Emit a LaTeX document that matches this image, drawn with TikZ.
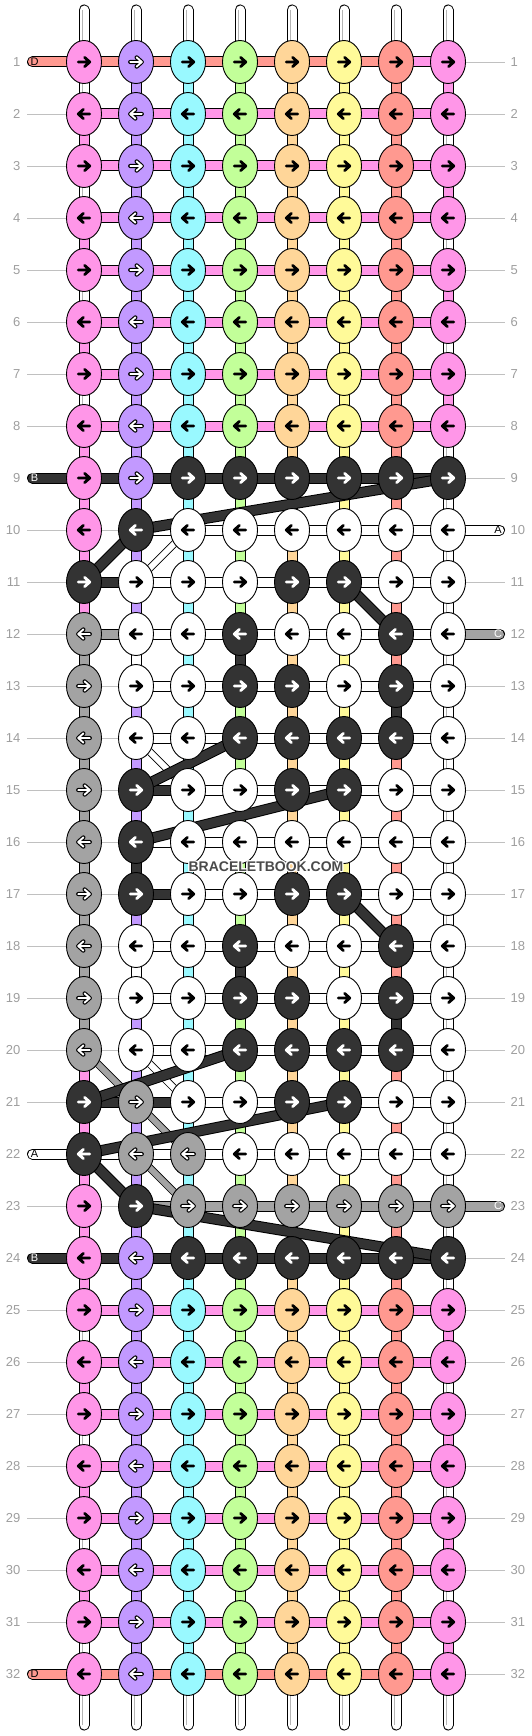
\documentclass[tikz,border=0pt]{standalone}
\usepackage{fontspec}
\setmainfont{Liberation Sans}
\usetikzlibrary{shapes.geometric}

\definecolor{cP}{HTML}{FF96E8}
\definecolor{cU}{HTML}{C299FF}
\definecolor{cC}{HTML}{99F9FF}
\definecolor{cG}{HTML}{C2FF99}
\definecolor{cO}{HTML}{FFD699}
\definecolor{cY}{HTML}{FFFA99}
\definecolor{cS}{HTML}{FF9990}
\definecolor{cK}{HTML}{333333}
\definecolor{cR}{HTML}{A3A3A3}
\definecolor{cW}{HTML}{FFFFFF}
\definecolor{lab}{HTML}{9E9E9E}
\definecolor{rule}{HTML}{C0C0C0}
\definecolor{thr}{HTML}{B4B4B4}
\definecolor{wmtext}{HTML}{4A4A4A}

\pgfdeclarelayer{background}
\pgfsetlayers{background,main}

\tikzset{
  knot/.style={ellipse,draw=black,line width=0.9pt,minimum width=35pt,minimum height=43pt,inner sep=0pt},
  strip/.style={draw=black,line width=1pt,double=#1,double distance=9pt},
  thread/.style={strip=white,line cap=round},
  seam/.style={draw=#1,line width=0.9pt},
  thinband/.style={draw=black,line width=0.8pt,double=#1,double distance=6pt},
  rowline/.style={draw=rule,line width=0.8pt},
  rownum/.style={text=lab,inner sep=0pt,font=\fontsize{13pt}{15pt}\selectfont},
  tailtext/.style={inner sep=0pt,font=\fontsize{11pt}{13pt}\selectfont},
  wmark/.style={inner sep=0pt,font=\fontsize{14pt}{16pt}\selectfont\bfseries},
  arrback/.style={draw=black,line width=2.8pt,line cap=round,line join=round},
  arrfront/.style={draw=none},
  aP/.style={}, aC/.style={}, aG/.style={}, aO/.style={},
  aY/.style={}, aS/.style={}, aW/.style={},
  aK/.style={arrback/.style={draw=white,line width=2.8pt,line cap=round,line join=round}},
  aU/.style={arrback/.style={draw=black,line width=4.2pt,line cap=round,line join=round},
             arrfront/.style={draw=white,line width=1.9pt,line cap=round,line join=round}},
  aR/.style={aU},
  knotarrow/.pic={
    \draw[arrback] (-5.8,0) -- (5.8,0) (0.6,-4.6) -- (5.8,0) -- (0.6,4.6);
    \draw[arrfront] (-5.8,0) -- (5.8,0) (0.6,-4.6) -- (5.8,0) -- (0.6,4.6);
  }
}

\def\rows{%
1/{P,U,C,G,O,Y,S,P}/{S,S,S,S,S,S,P}/{X,U,C,G,O,Y,S,P},
2/{P,U,C,G,O,Y,S,P}/{P,P,P,P,P,P,P}/{P,U,C,G,O,Y,S,X},
3/{P,U,C,G,O,Y,S,P}/{P,P,P,P,P,P,P}/{X,U,C,G,O,Y,S,P},
4/{P,U,C,G,O,Y,S,P}/{P,P,P,P,P,P,P}/{P,U,C,G,O,Y,S,X},
5/{P,U,C,G,O,Y,S,P}/{P,P,P,P,P,P,P}/{X,U,C,G,O,Y,S,P},
6/{P,U,C,G,O,Y,S,P}/{P,P,P,P,P,P,P}/{P,U,C,G,O,Y,S,X},
7/{P,U,C,G,O,Y,S,P}/{P,P,P,P,P,P,P}/{X,U,C,G,O,Y,S,P},
8/{P,U,C,G,O,Y,S,P}/{P,P,P,P,P,P,P}/{P,U,C,G,O,Y,S,X},
9/{P,U,K,K,K,K,K,K}/{K,K,K,K,K,K,K}/{P,U,C,G,O,Y,S,X},
10/{P,K,W,W,W,W,W,W}/{N,W,W,W,W,W,W}/{P,U,C,G,O,Y,S,X},
11/{K,W,W,W,K,K,W,W}/{K,W,W,W,W,W,W}/{P,U,C,G,O,Y,S,X},
12/{R,W,W,K,W,W,K,W}/{R,W,W,W,W,W,W}/{R,W,C,K,O,Y,S,X},
13/{R,W,W,K,K,W,K,W}/{N,W,W,W,W,W,W}/{R,U,C,G,O,Y,K,X},
14/{R,W,W,K,K,K,K,W}/{N,W,W,W,W,W,W}/{R,U,C,G,O,Y,S,X},
15/{R,K,W,W,K,K,W,W}/{N,K,W,W,W,W,W}/{R,U,C,G,O,Y,S,X},
16/{R,K,W,W,W,W,W,W}/{N,W,W,W,W,W,W}/{R,K,C,G,O,Y,S,X},
17/{R,K,W,W,K,K,W,W}/{N,K,W,W,W,W,W}/{R,U,C,G,O,Y,S,X},
18/{R,W,W,K,W,W,K,W}/{N,W,W,W,W,W,W}/{R,W,C,K,O,Y,S,X},
19/{R,W,W,K,K,W,K,W}/{N,W,W,W,W,W,W}/{R,U,C,G,O,Y,K,X},
20/{R,W,W,K,K,K,K,W}/{N,W,W,W,W,W,W}/{P,U,C,G,O,Y,S,X},
21/{K,R,W,W,K,K,W,W}/{K,K,W,W,W,W,W}/{P,U,C,G,O,Y,S,X},
22/{K,R,R,W,W,W,W,W}/{W,W,W,W,W,W,W}/{P,U,C,G,O,Y,S,X},
23/{P,K,R,R,R,R,R,R}/{N,R,R,R,R,R,R}/{P,U,C,G,O,Y,S,X},
24/{P,U,K,K,K,K,K,K}/{K,K,K,K,K,K,K}/{P,U,C,G,O,Y,S,X},
25/{P,U,C,G,O,Y,S,P}/{P,P,P,P,P,P,P}/{X,U,C,G,O,Y,S,P},
26/{P,U,C,G,O,Y,S,P}/{P,P,P,P,P,P,P}/{P,U,C,G,O,Y,S,X},
27/{P,U,C,G,O,Y,S,P}/{P,P,P,P,P,P,P}/{X,U,C,G,O,Y,S,P},
28/{P,U,C,G,O,Y,S,P}/{P,P,P,P,P,P,P}/{P,U,C,G,O,Y,S,X},
29/{P,U,C,G,O,Y,S,P}/{P,P,P,P,P,P,P}/{X,U,C,G,O,Y,S,P},
30/{P,U,C,G,O,Y,S,P}/{P,P,P,P,P,P,P}/{P,U,C,G,O,Y,S,X},
31/{P,U,C,G,O,Y,S,P}/{P,P,P,P,P,P,P}/{X,U,C,G,O,Y,S,P},
32/{P,U,C,G,O,Y,S,P}/{S,S,S,S,S,S,P}/{N,N,N,N,N,N,N,N}}

\begin{document}
\begin{tikzpicture}[x=1pt,y=-1pt]
  \useasboundingbox (0,0) rectangle (532,1736);

  \foreach \r/\ks/\gs/\vs in \rows {
    \foreach \k [count=\c] in \ks {
      \node[knot,fill=c\k] (k-\r-\c) at ({84+52*(\c-1)},{62+52*(\r-1)}) {};
      \ifodd\r\relax
        \pic[a\k] at (k-\r-\c) {knotarrow};
      \else
        \pic[a\k,xscale=-1] at (k-\r-\c) {knotarrow};
      \fi
    }
    \node[rownum,anchor=east] (lL-\r) at (20.5,{62+52*(\r-1)}) {\r};
    \node[rownum,anchor=west] (lR-\r) at (510.5,{62+52*(\r-1)}) {\r};
  }

  \foreach \dx/\dy [count=\i] in {-1/0,1/0,0/-1,0/1,-1/-1,1/1,-1/1,1/-1}
    \node[wmark,text=white] (wh-\i) at ({266+(\dx)},{867+(\dy)}) {BRACELETBOOK.COM};
  \node[wmark,text=wmtext] (wm) at (266,867) {BRACELETBOOK.COM};

  \begin{pgfonlayer}{background}
    \foreach \r in {1,...,32}
      \draw[rowline,shorten <=6.5pt,shorten >=5.5pt] (lL-\r.east) -- (lR-\r.west);

    \foreach \c in {1,...,8} {
      \coordinate (t-\c) at ({84+52*(\c-1)},10);
      \coordinate (b-\c) at ({84+52*(\c-1)},1725);
      \draw[thread] (t-\c) -- (k-1-\c.center);
      \draw[seam=thr] ([xshift=-1.5pt]t-\c) -- ([xshift=-1.5pt]k-1-\c.center);
      \draw[thread] (b-\c) -- (k-32-\c.center);
      \draw[seam=thr] ([xshift=-1.5pt]b-\c) -- ([xshift=-1.5pt]k-32-\c.center);
    }

    \foreach \r/\ks/\gs/\vs in \rows {
      \foreach \g [count=\c] in \gs {
        \if N\g\else
          \pgfmathtruncatemacro\cn{\c+1}
          \draw[strip=c\g] (k-\r-\c.center) -- (k-\r-\cn.center);
        \fi
      }
      \ifnum\r<32
        \pgfmathtruncatemacro\rn{\r+1}
        \foreach \v [count=\c] in \vs {
          \if X\v
            \draw[strip=white] (k-\r-\c.center) -- (k-\rn-\c.center);
            \draw[seam=thr] ([xshift=-1.5pt]k-\r-\c.center) -- ([xshift=-1.5pt]k-\rn-\c.center);
          \else
            \draw[strip=c\v] (k-\r-\c.center) -- (k-\rn-\c.center);
          \fi
        }
      \fi
    }

    \foreach \r/\col/\txt/\tc in {1/S/D/black,9/K/B/white,22/W/A/black,24/K/B/white,32/S/D/black} {
      \coordinate (tl-\r) at (32.5,{62+52*(\r-1)});
      \draw[strip=c\col,line cap=round] (tl-\r) -- (k-\r-1.center);
      \node[tailtext,text=\tc] (tn-\r) at (34.5,{62+52*(\r-1)}) {\txt};
    }
    \foreach \r/\col/\txt/\tc in {10/W/A/black,12/R/C/white,23/R/C/white} {
      \coordinate (tr-\r) at (499.5,{62+52*(\r-1)});
      \draw[strip=c\col,line cap=round] (k-\r-8.center) -- (tr-\r);
      \node[tailtext,text=\tc] (tm-\r) at (498,{62+52*(\r-1)}) {\txt};
    }

    \foreach \a/\b in {11-2/10-3,14-2/15-3,20-2/21-3}
      \draw[thinband=white] (k-\a.center) -- (k-\b.center);
    \foreach \a/\b in {20-1/21-2,21-2/22-3,22-2/23-3}
      \draw[thinband=cR] (k-\a.center) -- (k-\b.center);
    \foreach \a/\b in {9-8/10-2,11-1/10-2,11-6/12-7,14-4/15-2,15-6/16-2,17-6/18-7,20-4/21-1,21-6/22-1,22-1/23-2,23-2/24-8}
      \draw[strip=cK] (k-\a.center) -- (k-\b.center);
  \end{pgfonlayer}
\end{tikzpicture}
\end{document}
